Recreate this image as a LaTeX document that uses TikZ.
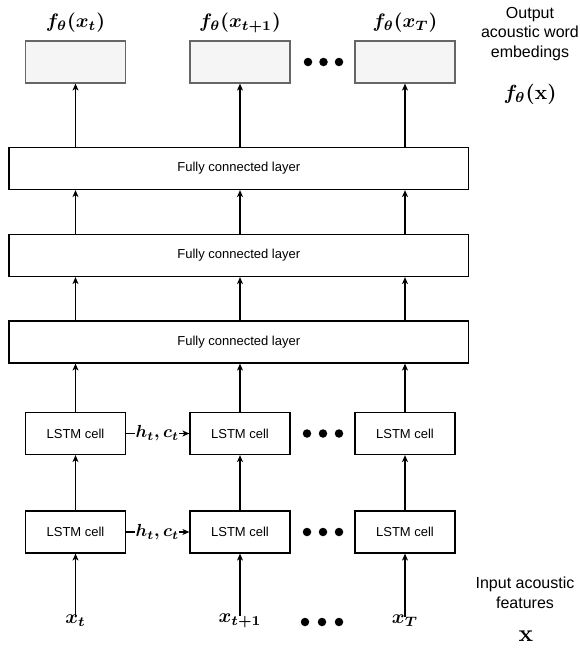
\documentclass[tikz,border=0pt]{standalone}
\usepackage{amsmath}
\usepackage{graphicx}
\usepackage[no-math]{fontspec}
\newfontfamily\helv{Liberation Sans}
\usetikzlibrary{arrows.meta}
\definecolor{outfill}{HTML}{F5F5F5}
\definecolor{outdraw}{HTML}{666666}
\newcommand{\mlb}[2][1.95]{\scalebox{#1}{$\boldsymbol{#2}$}}
\begin{document}
\begin{tikzpicture}[x=1pt,y=-1pt,
  cellbox/.style={draw=black,line width=1.2pt,minimum width=100pt,minimum height=42pt,inner sep=0pt,font=\helv\fontsize{13}{15}\selectfont},
  outbox/.style={draw=outdraw,fill=outfill,line width=1.2pt,minimum width=100pt,minimum height=42pt,inner sep=0pt},
  fcbox/.style={draw=black,line width=1.2pt,minimum width=459.5pt,minimum height=42pt,inner sep=0pt,font=\helv\fontsize{13}{15}\selectfont},
  arr/.style={line width=1.2pt,-{Stealth[length=7pt,width=6pt,inset=2pt]}},
  mlab/.style={inner sep=0pt,font=\fontsize{10}{12}\selectfont},
  hlab/.style={fill=white,inner sep=0.5pt,font=\fontsize{10}{12}\selectfont},
  rlab/.style={inner sep=0pt,align=center,font=\helv\fontsize{16}{19.5}\selectfont},
  dot/.style={circle,fill=black,minimum size=8.5pt,inner sep=0pt}
]
\useasboundingbox (0,0) rectangle (580,648);
% output boxes
\node[outbox] (o1) at (75.5,62) {};
\node[outbox] (o2) at (240,62) {};
\node[outbox] (o3) at (405,62) {};
\node[mlab] (lo1) at (75.5,23) {\mlb{f_\theta(x_t)}};
\node[mlab] (lo2) at (240,23) {\mlb{f_\theta(x_{t+1})}};
\node[mlab] (lo3) at (405,23) {\mlb{f_\theta(x_T)}};
\node[dot] (d1a) at (308,62) {};
\node[dot] (d1b) at (323.5,62) {};
\node[dot] (d1c) at (339,62) {};
% FC layers
\node[fcbox] (fc1) at (238.75,168.5) {Fully connected layer};
\node[fcbox] (fc2) at (238.75,255.5) {Fully connected layer};
\node[fcbox] (fc3) at (238.75,342) {Fully connected layer};
% LSTM rows
\node[cellbox] (t1) at (75.5,433.5) {LSTM cell};
\node[cellbox] (t2) at (240,433.5) {LSTM cell};
\node[cellbox] (t3) at (405,433.5) {LSTM cell};
\node[cellbox] (b1) at (75.5,532) {LSTM cell};
\node[cellbox] (b2) at (240,532) {LSTM cell};
\node[cellbox] (b3) at (405,532) {LSTM cell};
\node[dot] (d2a) at (307,433.5) {};
\node[dot] (d2b) at (323,433.5) {};
\node[dot] (d2c) at (339,433.5) {};
\node[dot] (d3a) at (307,532) {};
\node[dot] (d3b) at (323,532) {};
\node[dot] (d3c) at (339,532) {};
% inputs
\node[mlab] (i1) at (75.5,621) {\mlb{x_t}};
\node[mlab] (i2) at (240,621) {\mlb{x_{t+1}}};
\node[mlab] (i3) at (405,621) {\mlb{x_T}};
\node[dot] (d4a) at (305,622) {};
\node[dot] (d4b) at (322,622) {};
\node[dot] (d4c) at (339,622) {};
% right labels
\node[rlab] (rout) at (530,34) {Output\\acoustic word\\embedings};
\node[mlab] (rf) at (530,94) {\mlb[2.05]{f_\theta(\mathbf{x})}};
\node[rlab] (rin) at (525,593) {Input acoustic\\features};
\node[mlab] (rx) at (526,636) {\mlb[2.4]{\mathbf{x}}};
% vertical arrows
\foreach \k in {1,2,3}{
  \draw[arr] ([yshift=-2pt]i\k.north) -- (b\k.south);
  \draw[arr] (b\k.north) -- (t\k.south);
  \draw[arr] (t\k.north) -- (t\k.north |- fc3.south);
  \draw[arr] (t\k.north |- fc3.north) -- (t\k.north |- fc2.south);
  \draw[arr] (t\k.north |- fc2.north) -- (t\k.north |- fc1.south);
  \draw[arr] (o\k.south |- fc1.north) -- (o\k.south);
}
% recurrent arrows
\draw[arr] (t1.east) -- node[hlab,xshift=-0.5pt]{\mlb[1.75]{h_t,c_t}} (t2.west);
\draw[arr] (b1.east) -- node[hlab,xshift=-0.5pt]{\mlb[1.75]{h_t,c_t}} (b2.west);
\end{tikzpicture}
\end{document}
